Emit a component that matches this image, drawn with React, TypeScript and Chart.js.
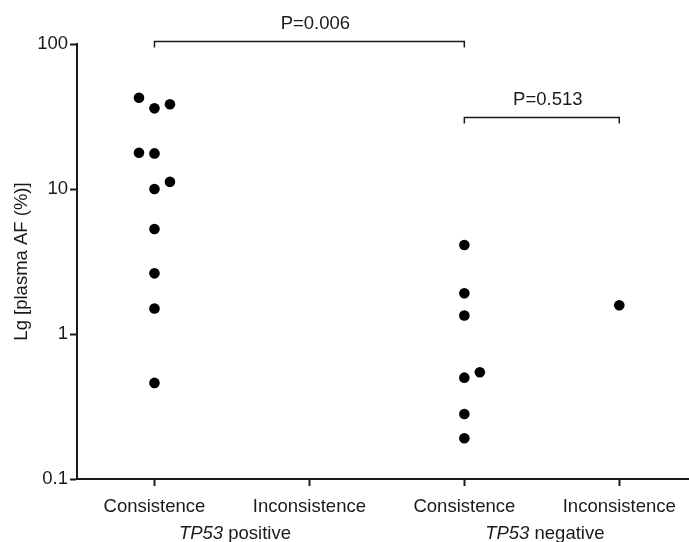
import React, { useEffect, useRef } from "react";
import { Chart, registerables } from "chart.js";

Chart.register(...registerables);

// ---- data ----
const categories = ["Consistence", "Inconsistence", "Consistence", "Inconsistence"];
const groupNames = ["positive", "negative"];
const geneName = "TP53";
const yTitle = "Lg [plasma AF (%)]";
const yTicks = [0.1, 1, 10, 100];

const posConsistence = [42.6, 36.0, 38.4, 17.8, 17.6, 11.2, 10.0, 5.3, 2.62, 1.5, 0.46];
const posConsistenceJitter = [-0.1, 0, 0.1, -0.1, 0, 0.1, 0, 0, 0, 0, 0];
const posInconsistence: number[] = [];
const negConsistence = [4.11, 1.91, 1.34, 0.5, 0.545, 0.281, 0.191];
const negConsistenceJitter = [0, 0, 0, 0, 0.1, 0, 0];
const negInconsistence = [1.58];

const comparisons = [
  { from: 0, to: 2, level: 105, label: "P=0.006" },
  { from: 2, to: 3, level: 31.4, label: "P=0.513" },
];

const FS = 18.5;
const FONT = '"Liberation Sans", Arial, Helvetica, sans-serif';
const INK = "#1a1a1a";

function pts(values: number[], cat: number, jitter?: number[]) {
  return values.map((v, i) => ({ x: cat + (jitter ? jitter[i] : 0), y: v }));
}

const annotPlugin = {
  id: "annot",
  afterDraw(chart: any) {
    const { ctx, chartArea } = chart;
    const x = chart.scales.x;
    const y = chart.scales.y;
    ctx.save();
    ctx.fillStyle = INK;
    ctx.strokeStyle = INK;

    // y title
    ctx.save();
    ctx.font = `${FS}px ${FONT}`;
    ctx.translate(22, (chartArea.top + chartArea.bottom) / 2);
    ctx.rotate(-Math.PI / 2);
    ctx.textAlign = "center";
    ctx.textBaseline = "middle";
    ctx.fillText(yTitle, 0, 0);
    ctx.restore();

    // second-line group labels
    ctx.textBaseline = "middle";
    ctx.textAlign = "left";
    groupNames.forEach((g, gi) => {
      const cx = (x.getPixelForValue(gi * 2) + x.getPixelForValue(gi * 2 + 1)) / 2 + 3;
      ctx.font = `italic ${FS}px ${FONT}`;
      const w1 = ctx.measureText(geneName).width;
      ctx.font = `${FS}px ${FONT}`;
      const rest = " " + g;
      const w2 = ctx.measureText(rest).width;
      const sx = cx - (w1 + w2) / 2;
      const ty = chartArea.bottom + 55;
      ctx.font = `italic ${FS}px ${FONT}`;
      ctx.fillText(geneName, sx, ty);
      ctx.font = `${FS}px ${FONT}`;
      ctx.fillText(rest, sx + w1, ty);
    });

    // brackets
    ctx.lineWidth = 1.5;
    ctx.font = `${FS}px ${FONT}`;
    ctx.textAlign = "center";
    ctx.textBaseline = "alphabetic";
    comparisons.forEach((c) => {
      const x1 = x.getPixelForValue(c.from);
      const x2 = x.getPixelForValue(c.to);
      const yy = Math.round(y.getPixelForValue(c.level)) + 0.5;
      ctx.beginPath();
      ctx.moveTo(x1, yy + 6);
      ctx.lineTo(x1, yy);
      ctx.lineTo(x2, yy);
      ctx.lineTo(x2, yy + 6);
      ctx.stroke();
      ctx.fillText(c.label, (x1 + x2) / 2 + 6, yy - 13);
    });
    ctx.restore();
  },
};

export default function App() {
  const ref = useRef<HTMLCanvasElement | null>(null);
  useEffect(() => {
    if (!ref.current) return;
    const chart = new Chart(ref.current, {
      type: "scatter",
      data: {
        datasets: [
          { data: pts(posConsistence, 0, posConsistenceJitter) },
          { data: pts(posInconsistence, 1) },
          { data: pts(negConsistence, 2, negConsistenceJitter) },
          { data: pts(negInconsistence, 3) },
        ].map((d) => ({
          ...d,
          backgroundColor: "#000",
          borderWidth: 0,
          pointRadius: 5.3,
          pointHoverRadius: 5.3,
        })),
      },
      options: {
        responsive: false,
        animation: false,
        events: [],
        layout: { autoPadding: false, padding: { top: 44, left: 0, right: 0, bottom: 0 } },
        plugins: { legend: { display: false }, tooltip: { enabled: false } },
        scales: {
          x: {
            type: "linear",
            min: -0.5,
            max: 3.45,
            afterBuildTicks: (s: any) => {
              s.ticks = categories.map((_, i) => ({ value: i }));
            },
            afterFit: (s: any) => {
              s.height = 63;
            },
            ticks: {
              callback: (v: any) => categories[v as number] ?? "",
              color: INK,
              font: { size: FS, family: FONT },
              padding: 10,
              maxRotation: 0,
              autoSkip: false,
            },
            grid: {
              display: true,
              drawOnChartArea: false,
              drawTicks: true,
              tickLength: 7,
              tickWidth: 2,
              tickColor: INK,
              color: INK,
            },
            border: { display: true, color: INK, width: 2 },
          },
          y: {
            type: "logarithmic",
            min: 0.1,
            max: 100,
            afterBuildTicks: (s: any) => {
              s.ticks = yTicks.map((v) => ({ value: v }));
            },
            afterFit: (s: any) => {
              s.width = 77;
            },
            ticks: {
              callback: (v: any) => String(v),
              color: INK,
              font: { size: FS, family: FONT },
              padding: 2,
              autoSkip: false,
            },
            grid: {
              display: true,
              drawOnChartArea: false,
              drawTicks: true,
              tickLength: 7,
              tickWidth: 2,
              tickColor: INK,
              color: INK,
            },
            border: { display: true, color: INK, width: 2 },
          },
        },
      },
      plugins: [annotPlugin],
    });
    return () => chart.destroy();
  }, []);
  return (
    <div style={{ position: "absolute", left: 0, top: 0, width: 689, height: 542, background: "#fff" }}>
      <canvas ref={ref} width={689} height={542} />
    </div>
  );
}
